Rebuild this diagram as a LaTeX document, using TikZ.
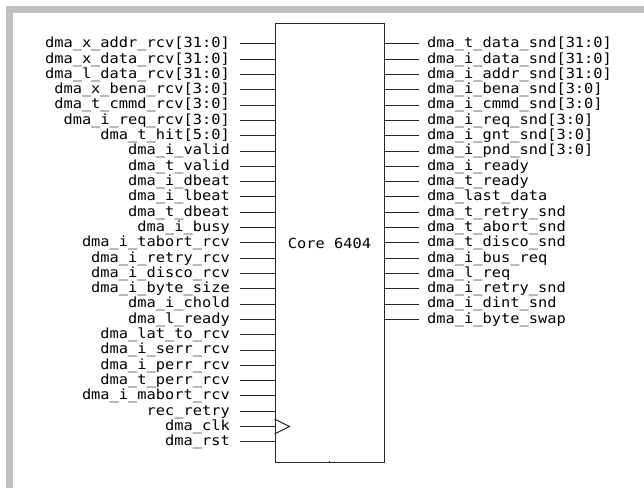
\documentclass[tikz,border=0pt]{standalone}
\usepackage{fontspec}
\newfontfamily\pinfont{DejaVu Sans Mono}[FakeStretch=1.1]
\definecolor{framegray}{HTML}{C0C0C0}
\begin{document}
\begin{tikzpicture}[x=1bp,y=-1bp,
  pinlabel/.style={font=\pinfont\fontsize{14}{16}\selectfont, inner sep=0, text=black},
  wire/.style={line width=1bp, black!85}]
\useasboundingbox (0,0) rectangle (644,488);
\fill[white] (0,0) rectangle (644,488);
\fill[framegray] (6,6) rectangle (644,13);
\fill[framegray] (6,6) rectangle (13,488);
\node[draw=black!85, line width=1bp, minimum width=109bp, minimum height=438bp, inner sep=0, pinlabel] (core) at (329.5,243) {Core 6404};
\foreach \t [count=\i from 0] in {
  {dma\_x\_addr\_rcv[31:0]},{dma\_x\_data\_rcv[31:0]},{dma\_l\_data\_rcv[31:0]},
  {dma\_x\_bena\_rcv[3:0]},{dma\_t\_cmmd\_rcv[3:0]},{dma\_i\_req\_rcv[3:0]},
  {dma\_t\_hit[5:0]},{dma\_i\_valid},{dma\_t\_valid},{dma\_i\_dbeat},{dma\_i\_lbeat},
  {dma\_t\_dbeat},{dma\_i\_busy},{dma\_i\_tabort\_rcv},{dma\_i\_retry\_rcv},
  {dma\_i\_disco\_rcv},{dma\_i\_byte\_size},{dma\_i\_chold},{dma\_l\_ready},
  {dma\_lat\_to\_rcv},{dma\_i\_serr\_rcv},{dma\_i\_perr\_rcv},{dma\_t\_perr\_rcv},
  {dma\_i\_mabort\_rcv},{rec\_retry},{dma\_clk},{dma\_rst}} {
  \coordinate (l\i) at (240, 44+\i*15.3);
  \node[pinlabel, anchor=base east] (ln\i) at (230, 47.8+\i*15.3) {\t};
  \draw[wire] (l\i) -- (l\i -| core.west);
}
\foreach \t [count=\i from 0] in {
  {dma\_t\_data\_snd[31:0]},{dma\_i\_data\_snd[31:0]},{dma\_i\_addr\_snd[31:0]},
  {dma\_i\_bena\_snd[3:0]},{dma\_i\_cmmd\_snd[3:0]},{dma\_i\_req\_snd[3:0]},
  {dma\_i\_gnt\_snd[3:0]},{dma\_i\_pnd\_snd[3:0]},{dma\_i\_ready},{dma\_t\_ready},
  {dma\_last\_data},{dma\_t\_retry\_snd},{dma\_t\_abort\_snd},{dma\_t\_disco\_snd},
  {dma\_i\_bus\_req},{dma\_l\_req},{dma\_i\_retry\_snd},{dma\_i\_dint\_snd},
  {dma\_i\_byte\_swap}} {
  \coordinate (r\i) at (419, 44+\i*15.3);
  \node[pinlabel, anchor=base west] (rn\i) at (427, 47.8+\i*15.3) {\t};
  \draw[wire] (r\i -| core.east) -- (r\i);
}
\coordinate (clkin) at (l25 -| core.west);
\draw[wire] ([yshift=-7.5bp]clkin) -- ([xshift=15bp]clkin) -- ([yshift=7.5bp]clkin);
\draw[wire] (core.south) -- ([yshift=2bp]core.south);
\end{tikzpicture}
\end{document}
